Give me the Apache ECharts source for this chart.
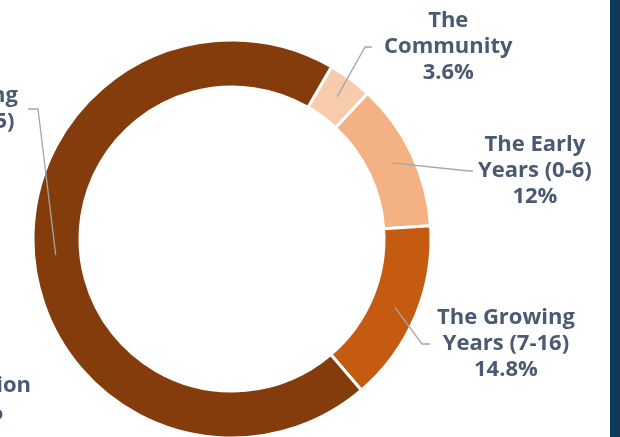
<!DOCTYPE html>
<html><head><meta charset="utf-8">
<script src="https://cdn.jsdelivr.net/npm/echarts@6/dist/echarts.min.js"></script>
<style>html,body{margin:0;padding:0;background:#fff}#c{width:620px;height:437px}</style>
</head><body><div id="c"></div>
<script>
// ---- data ----
const categories = ['The\nCommunity', 'The Early\nYears (0-6)', 'The Growing\nYears (7-16)', 'The\nTransitioning\nYears (17-25)'];
const shares = [3.6, 12, 14.8, 69.6];
const sliceColors = ['#F8CBAD', '#F4B183', '#C55A11', '#843C0C'];
const sideNoteLines = ['Administration', '0%'];

// ---- layout (not data) ----
const CX = 232, CY = 239, R0 = 152, R1 = 199, ANCHOR_R = 177;
// edge = x of the label side facing the leader line
const labelSpots = [
  { edge: 384, y: 47,  gap: 12, len2: 7 },
  { edge: 478, y: 171, gap: 5,  len2: 4 },
  { edge: 437, y: 344, gap: 7,  len2: 8 },
  { edge: 18,  y: 109, gap: 10, len2: 10 }
];
const FONT = 'Open Sans';
const TXT = '#4b5a73';
const FS = 22;
const textStyle = { fontFamily: FONT, fontWeight: 700, fontSize: FS, lineHeight: 26, color: TXT };

const pieData = categories.map((n, i) => ({ name: n, value: shares[i], itemStyle: { color: sliceColors[i] } }));

const chart = echarts.init(document.getElementById('c'), null, { renderer: 'canvas' });
chart.setOption({
  backgroundColor: '#ffffff',
  animation: false,
  graphic: [
    { type: 'rect', shape: { x: 610, y: 0, width: 10, height: 437 }, style: { fill: '#0c3a5b' } },
    { type: 'text', x: 31, y: 386, style: { text: sideNoteLines[0], align: 'right', verticalAlign: 'middle', fontFamily: FONT, fontWeight: 700, fontSize: FS, fill: TXT } },
    { type: 'text', x: 3, y: 413, style: { text: sideNoteLines[1], align: 'right', verticalAlign: 'middle', fontFamily: FONT, fontWeight: 700, fontSize: FS, fill: TXT } }
  ],
  series: [{
    // the visible ring
    type: 'pie',
    z: 2,
    center: [CX, CY],
    radius: [R0, R1],
    startAngle: 60,
    clockwise: true,
    silent: true,
    itemStyle: { borderColor: '#ffffff', borderWidth: 3 },
    label: { show: false },
    labelLine: { show: false },
    data: pieData
  }, {
    // same slices, transparent, carrying the labels and leader lines above the ring
    type: 'pie',
    z: 5,
    center: [CX, CY],
    radius: [R0, R1],
    startAngle: 60,
    clockwise: true,
    avoidLabelOverlap: false,
    silent: true,
    itemStyle: { color: 'rgba(0,0,0,0)', borderWidth: 0 },
    label: {
      show: true,
      position: 'outside',
      ...textStyle,
      formatter: p => p.name.split('\n').map(l => '{c|' + l + '}').join('\n') + '\n{c|' + p.value + '%}',
      rich: { c: Object.assign({ align: 'center' }, textStyle) }
    },
    labelLine: { show: true, showAbove: true, length: 10, length2: 10, lineStyle: { color: '#a6a6a6', width: 1.3 } },
    labelLayout: function (p) {
      const s = labelSpots[p.dataIndex];
      const w = p.labelRect.width;
      const a0 = p.labelLinePoints[0];
      const k = ANCHOR_R / R1;
      const ax = CX + (a0[0] - CX) * k, ay = CY + (a0[1] - CY) * k;
      const toRight = s.edge > ax;
      const cx = toRight ? s.edge + w / 2 : s.edge - w / 2;
      const lineEnd = toRight ? s.edge - s.gap : s.edge + s.gap;
      const mid = toRight ? lineEnd - s.len2 : lineEnd + s.len2;
      return { x: cx, y: s.y, align: 'center', verticalAlign: 'middle',
               labelLinePoints: [[ax, ay], [mid, s.y], [lineEnd, s.y]] };
    },
    data: categories.map((n, i) => ({ name: n, value: shares[i], itemStyle: { color: 'rgba(0,0,0,0)' } }))
  }]
});
</script></body></html>
